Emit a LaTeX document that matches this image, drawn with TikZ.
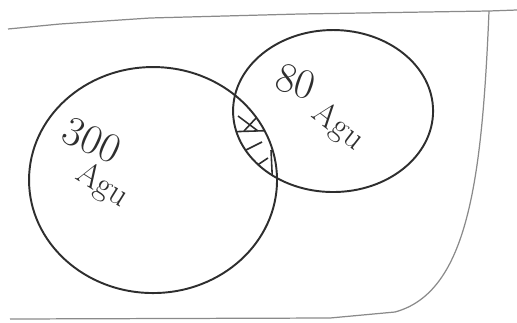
\documentclass[tikz,border=0pt]{standalone}
\usepackage{tikz}
\definecolor{pencil}{HTML}{2E2E2E}
\definecolor{framegray}{HTML}{8A8A8A}

\begin{document}
\begin{tikzpicture}[scale=0.02, yscale=-1,
    set/.style={draw=pencil, line width=1.1pt},
    frame/.style={draw=framegray, line width=0.7pt},
    hatch/.style={draw=pencil, line width=0.9pt},
    count/.style={text=pencil, font=\fontsize{24}{24}\selectfont, inner sep=0pt},
    unit/.style={text=pencil, font=\fontsize{19}{19}\selectfont, inner sep=0pt}
  ]
    \useasboundingbox (0,0) rectangle (517,322);

    % Frame
    \draw[frame] (8,29) -- (60,24) -- (150,18) -- (300,14) -- (489,11) -- (517,10);
    \draw[frame] (489,11) .. controls (482,180) and (468,292) .. (395,312)
      -- (330,318) -- (10,319);

    % Sets
    \coordinate (big) at (153,180);
    \coordinate (small) at (333,111);
    \draw[set] (big) ellipse [x radius=124, y radius=113];
    \draw[set] (small) ellipse [x radius=100, y radius=81];

    % Overlap
    \begin{scope}
      \clip (big) ellipse [x radius=124, y radius=113];
      \clip (small) ellipse [x radius=100, y radius=81];
      \draw[hatch] (225,132) -- (285,130);
      \draw[hatch] (238,116) -- (258,131);
      \draw[hatch] (244,131) -- (257,117);
      \draw[hatch] (236,143) -- (270,186);
      \draw[hatch] (246,150) -- (262,142);
      \draw[hatch] (250,170) -- (268,158);
      \draw[hatch] (271,150) -- (273,192);
    \end{scope}

    % Labels
    \node[count, rotate=-25] (n300) at (92,140) {300};
    \node[unit, rotate=-32] (u300) at (102,186) {Agu};
    \node[count, rotate=-18] (n80) at (296,82) {80};
    \node[unit, rotate=-38] (u80) at (338,127) {Agu};
\end{tikzpicture}
\end{document}
